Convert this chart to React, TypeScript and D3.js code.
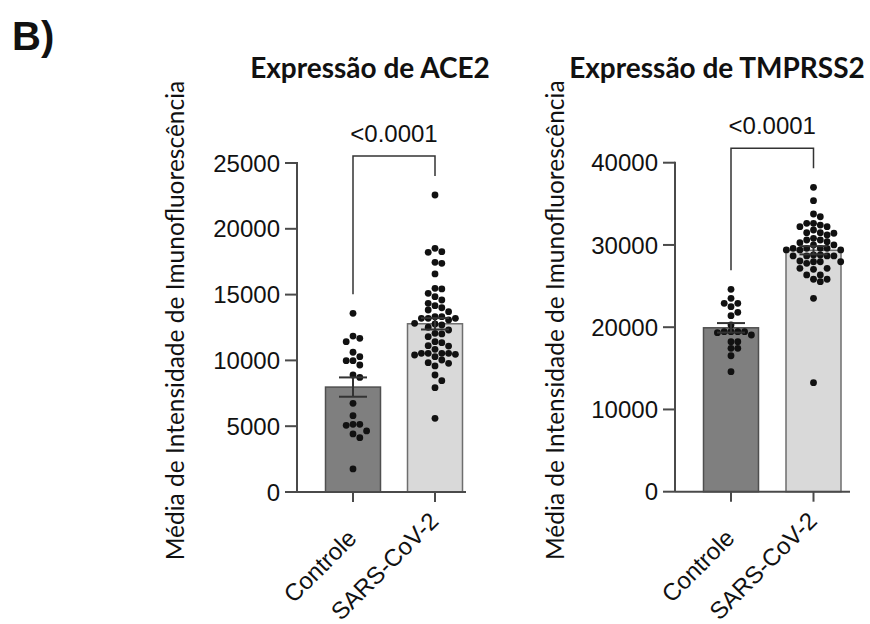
import * as d3 from 'd3';

const categories = ['Controle', 'SARS-CoV-2'];

const ace2Controle = [13580, 11850, 11680, 11420, 10620, 9980, 10280, 9650, 9980, 8710, 8890, 6740, 5800, 5140, 5140, 5070, 4410, 4640, 4130, 1750];
const ace2Sars = [
  22570, 18520, 18260, 18210, 17450, 17380, 16570, 15480, 15430, 15100, 14840, 14160, 14590, 14340, 13700, 14000, 13830,
  13200, 13200, 13200, 13320, 13320, 13070, 12690, 12520, 12820, 12770, 12310, 11800, 12010, 12060, 11420, 11350, 11120,
  11090, 10840, 10410, 10540, 10540, 10280, 10540, 10540, 10460, 10030, 9780, 9580, 9830, 8890, 8460, 7930, 5600,
];
const tmprss2Controle = [24610, 22900, 22900, 23510, 22490, 21810, 21400, 20270, 19450, 19330, 19450, 19450, 19050, 19450, 18240, 18240, 17430, 17430, 16530, 14590];
const tmprss2Sars = [
  37010, 35380, 33760, 33430, 32630, 32630, 32220, 32220, 32420, 31820, 31490, 31420, 31490, 31210, 30810, 30600, 30600,
  30400, 30000, 30270, 30000, 29390, 29590, 29590, 29390, 29390, 29590, 29590, 28660, 28780, 28660, 28660, 28780, 28660,
  27960, 27960, 28050, 27960, 27770, 27160, 27040, 27160, 26350, 26350, 25830, 25830, 25530, 23510, 13250,
];

const ace2Ticks = [0, 5000, 10000, 15000, 20000, 25000];
const tmprss2Ticks = [0, 10000, 20000, 30000, 40000];
const titles = ['Expressão de ACE2', 'Expressão de TMPRSS2'];
const yLabel = 'Média de Intensidade de Imunofluorescência';
const pLabels = ['<0.0001', '<0.0001'];

const barFill = ['#7f7f7f', '#d9d9d9'];
const barStroke = ['#4f4f4f', '#6e6e6e'];
const axisColor = '#4a4a4a';
const sans = '"Liberation Sans", Arial, sans-serif';

const measureCtx = document.createElement('canvas').getContext('2d');
function textWidth(s, font) {
  if (!measureCtx) return s.length * 13;
  measureCtx.font = font;
  return measureCtx.measureText(s).width;
}

// grid beeswarm, like prism: columns one dot apart
function swarm(values, y, cx, d) {
  const placed = [];
  const sorted = [...values].sort((a, b) => b - a);
  sorted.forEach(v => {
    const py = y(v);
    for (let k = 0; k < 20; k++) {
      const offs = k === 0 ? [0] : [k, -k];
      let done = false;
      for (const o of offs) {
        const px = cx + o * d;
        const hit = placed.some(p => Math.hypot(p.x - px, p.y - py) < d * 0.97);
        if (!hit) {
          placed.push({ x: px, y: py });
          done = true;
          break;
        }
      }
      if (done) break;
    }
  });
  return placed;
}

function Panel({ groups, ticks, title, pLabel, layout }) {
  const { axisX, top, bottom, first, step, axisEnd, titleX, labelX } = layout;
  const y = d3.scaleLinear().domain([0, ticks[ticks.length - 1]]).range([bottom, top]);
  const x = d3.scalePoint().domain(categories).range([first, first + step]);
  const barW = 55;
  const r = 3.4;

  const stats = groups.map(vals => {
    const m = d3.mean(vals);
    const sem = d3.deviation(vals) / Math.sqrt(vals.length);
    return { m, sem, max: d3.max(vals) };
  });

  // bracket legs sit ~20px above the highest dot of each group
  const legEnds = stats.map(s => y(s.max) - 19);
  const bracketTop = Math.min(...legEnds) - 20;
  const cxL = x(categories[0]);
  const cxR = x(categories[1]);

  return (
    <g>
      <text x={titleX} y={78} textAnchor="middle" fontFamily="Lato, sans-serif" fontWeight={700} fontSize={28} fill="#111">
        {title}
      </text>
      <text
        transform={`translate(${labelX},${(top + bottom) / 2 - 7}) rotate(-90)`}
        textAnchor="middle"
        fontFamily="Lato, sans-serif"
        fontSize={24.5}
        fill="#111"
      >
        {yLabel}
      </text>

      {categories.map((c, i) => (
        <rect
          key={c}
          x={x(c) - barW / 2}
          y={y(stats[i].m)}
          width={barW}
          height={bottom - y(stats[i].m)}
          fill={barFill[i]}
          stroke={barStroke[i]}
          strokeWidth={1.5}
        />
      ))}

      {categories.map((c, i) =>
        swarm(groups[i], y, x(c), 2 * r).map((p, j) => <circle key={c + j} cx={p.x} cy={p.y} r={r} fill="#111" />)
      )}

      {categories.map((c, i) => {
        const s = stats[i];
        const cx = x(c);
        return (
          <g key={c} stroke="#333" strokeWidth={2}>
            <line x1={cx} x2={cx} y1={y(s.m - s.sem)} y2={y(s.m + s.sem)} />
            <line x1={cx - 14} x2={cx + 14} y1={y(s.m + s.sem)} y2={y(s.m + s.sem)} />
            <line x1={cx - 14} x2={cx + 14} y1={y(s.m - s.sem)} y2={y(s.m - s.sem)} />
          </g>
        );
      })}

      {/* y axis */}
      <line x1={axisX} x2={axisX} y1={top - 1} y2={bottom} stroke={axisColor} strokeWidth={2} />
      {ticks.map(t => (
        <g key={t} transform={`translate(0,${y(t)})`}>
          <line x1={axisX - 12} x2={axisX} stroke={axisColor} strokeWidth={2} />
          <text x={axisX - 17} dy="0.36em" textAnchor="end" fontFamily={sans} fontSize={24} fill="#111">
            {t}
          </text>
        </g>
      ))}

      {/* x axis; rotated labels end at the tick, their middles share one height */}
      <line x1={axisX} x2={axisEnd} y1={bottom} y2={bottom} stroke={axisColor} strokeWidth={2} />
      {categories.map(c => {
        const w = textWidth(c, '24px "Liberation Sans"');
        const ey = 80 - w * Math.SQRT1_2 / 2;
        return (
          <g key={c} transform={`translate(${x(c)},${bottom})`}>
            <line y1={0} y2={10} stroke={axisColor} strokeWidth={2} />
            <text transform={`translate(5,${ey}) rotate(-45)`} textAnchor="end" fontFamily={sans} fontSize={24} fill="#111">
              {c}
            </text>
          </g>
        );
      })}

      {/* significance bracket */}
      <path
        d={`M${cxL},${legEnds[0]}V${bracketTop}H${cxR}V${legEnds[1]}`}
        fill="none"
        stroke="#333"
        strokeWidth={1.5}
      />
      <text x={(cxL + cxR) / 2} y={bracketTop - 14} textAnchor="middle" fontFamily={sans} fontSize={24} fill="#111">
        {pLabel}
      </text>
    </g>
  );
}

export default function App() {
  return (
    <div>
      <style>{'body{margin:0}'}</style>
      <svg width={870} height={624} style={{ display: 'block', background: '#fff' }}>
        <text x={12} y={50} fontFamily={sans} fontWeight={700} fontSize={40} fill="#111">
          B)
        </text>
        <Panel
          groups={[ace2Controle, ace2Sars]}
          ticks={ace2Ticks}
          title={titles[0]}
          pLabel={pLabels[0]}
          layout={{ axisX: 297, top: 163, bottom: 492, first: 353, step: 82, axisEnd: 466, titleX: 370, labelX: 184 }}
        />
        <Panel
          groups={[tmprss2Controle, tmprss2Sars]}
          ticks={tmprss2Ticks}
          title={titles[1]}
          pLabel={pLabels[1]}
          layout={{ axisX: 675, top: 162.7, bottom: 491.7, first: 731, step: 82.5, axisEnd: 850, titleX: 717, labelX: 564 }}
        />
      </svg>
    </div>
  );
}
